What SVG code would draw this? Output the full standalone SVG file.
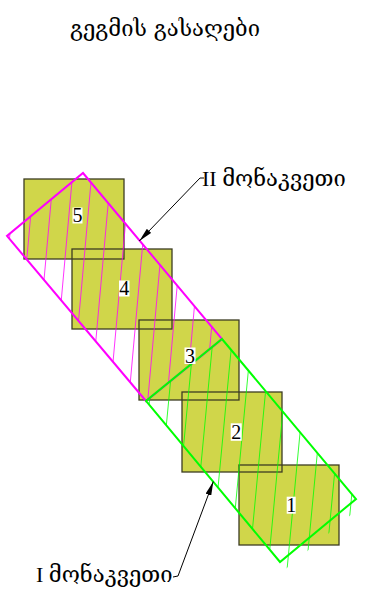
<svg xmlns="http://www.w3.org/2000/svg" width="383" height="608" viewBox="0 0 383 608">
<style>
.sq{fill:#d0d64a;stroke:none}
.bd{fill:none;stroke:#3c3c22;stroke-width:1.3}
.hm{stroke:#ff00ff;stroke-width:0.8;fill:none}
.hg{stroke:#00ff00;stroke-width:0.8;fill:none}
.om{fill:none;stroke:#ff00ff;stroke-width:2}
.og{fill:none;stroke:#00ff00;stroke-width:2}
.num{font-family:"Liberation Serif","DejaVu Serif",serif;font-size:20px;fill:#000;text-anchor:middle}
.nb{fill:#fff}
.lab{font-family:"Liberation Serif","DejaVu Serif",serif;font-size:22px;fill:#000}
.ttl{font-family:"DejaVu Serif",serif;font-size:22px;fill:#000;text-anchor:middle}
.ld{fill:none;stroke:#000;stroke-width:1}
</style>
<defs>
<marker id="ah" markerUnits="userSpaceOnUse" viewBox="0 0 14 6" refX="14" refY="3" markerWidth="14" markerHeight="6" orient="auto">
<path d="M0,0 L14,3 L0,6 z" fill="#000"/>
</marker>
<clipPath id="clipM"><polygon points="83,173 222,339 146,401 7,236"/></clipPath>
<clipPath id="clipG"><polygon points="222,339 361.7,505.9 285.7,568.9 146,401"/></clipPath>
</defs>
<g id="title"><text class="ttl" x="165" y="36">გეგმის გასაღები</text></g>
<g id="node-5"><rect class="sq" x="24" y="179" width="100" height="80"/></g>
<g id="node-4"><rect class="sq" x="72" y="249" width="100" height="80"/></g>
<g id="node-3"><rect class="sq" x="139" y="320" width="100" height="80"/></g>
<g id="node-2"><rect class="sq" x="182" y="392" width="100" height="80"/></g>
<g id="node-1"><rect class="sq" x="239" y="465" width="100" height="80"/></g>
<g id="square-borders">
<rect class="bd" x="24" y="179" width="100" height="80"/>
<rect class="bd" x="72" y="249" width="100" height="80"/>
<rect class="bd" x="139" y="320" width="100" height="80"/>
<rect class="bd" x="182" y="392" width="100" height="80"/>
<rect class="bd" x="239" y="465" width="100" height="80"/>
</g>
<g id="section-II">
<g clip-path="url(#clipM)" class="hm">
<line x1="16.6" y1="160" x2="-6.8" y2="420"/>
<line x1="35.7" y1="160" x2="12.3" y2="420"/>
<line x1="54.8" y1="160" x2="31.4" y2="420"/>
<line x1="73.9" y1="160" x2="50.5" y2="420"/>
<line x1="93.0" y1="160" x2="69.6" y2="420"/>
<line x1="112.1" y1="160" x2="88.7" y2="420"/>
<line x1="131.2" y1="160" x2="107.8" y2="420"/>
<line x1="150.3" y1="160" x2="126.9" y2="420"/>
<line x1="169.4" y1="160" x2="146.0" y2="420"/>
<line x1="188.5" y1="160" x2="165.1" y2="420"/>
<line x1="207.6" y1="160" x2="184.2" y2="420"/>
<line x1="226.7" y1="160" x2="203.3" y2="420"/>
</g>
<polygon class="om" points="83,173 222,339 146,401 7,236"/>
</g>
<g id="section-I">
<g clip-path="url(#clipG)" class="hg">
<line x1="156.2" y1="330" x2="132.45" y2="580"/>
<line x1="175.4" y1="330" x2="151.65" y2="580"/>
<line x1="194.6" y1="330" x2="170.85" y2="580"/>
<line x1="213.8" y1="330" x2="190.05" y2="580"/>
<line x1="233.0" y1="330" x2="209.25" y2="580"/>
<line x1="252.2" y1="330" x2="228.45" y2="580"/>
<line x1="271.4" y1="330" x2="247.65" y2="580"/>
<line x1="290.6" y1="330" x2="266.85" y2="580"/>
<line x1="309.8" y1="330" x2="286.05" y2="580"/>
<line x1="329.0" y1="330" x2="305.25" y2="580"/>
<line x1="348.2" y1="330" x2="324.45" y2="580"/>
<line x1="367.4" y1="330" x2="343.65" y2="580"/>
</g>
<polygon class="og" points="222,339 356,499 280,562 146,401"/>
</g>
<g id="node-labels">
<rect class="nb" x="72.5" y="207.5" width="10" height="16"/><text class="num" x="77.5" y="222">5</text>
<rect class="nb" x="119" y="280.5" width="10.5" height="16"/><text class="num" x="124.2" y="295">4</text>
<rect class="nb" x="184.5" y="347.5" width="11" height="16.5"/><text class="num" x="190" y="362.5">3</text>
<rect class="nb" x="230.7" y="423.3" width="11" height="17.5"/><text class="num" x="236.2" y="439">2</text>
<rect class="nb" x="286.7" y="496.7" width="9" height="17"/><text class="num" x="291.2" y="512">1</text>
</g>
<g id="connectors">
<path class="ld" d="M204,178 L200,178 L139.3,241" marker-end="url(#ah)"/>
<path class="ld" d="M173,577 L178,576 L213.3,481.5" marker-end="url(#ah)"/>
</g>
<g id="label-II"><text class="lab" x="202" y="186">II მონაკვეთი</text></g>
<g id="label-I"><text class="lab" x="36" y="582">I მონაკვეთი</text></g>
</svg>
